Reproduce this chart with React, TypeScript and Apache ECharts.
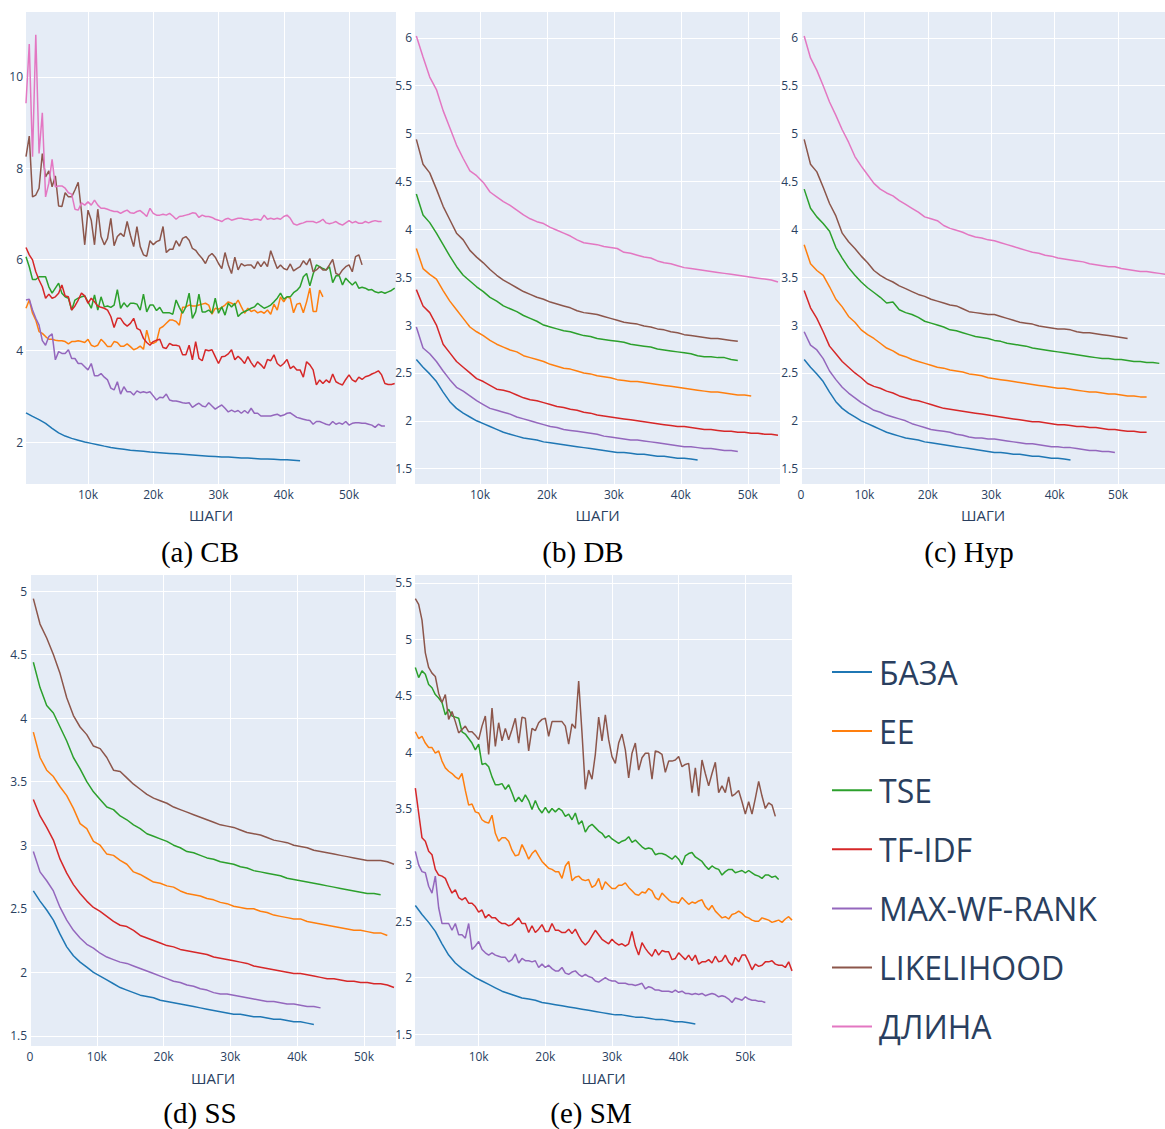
import React, { useEffect, useRef } from "react";
import * as echarts from "echarts";

const NAMES = ["БАЗА", "EE", "TSE", "TF-IDF", "MAX-WF-RANK", "LIKELIHOOD", "ДЛИНА"];
const COLORS = ["#1f77b4", "#ff7f0e", "#2ca02c", "#d62728", "#9467bd", "#8c564b", "#e377c2"];
const CAPTIONS = ["(a) CB", "(b) DB", "(c) Hyp", "(d) SS", "(e) SM"];
const X_AXIS_TITLE = "ШАГИ";
const X_TICKS = [10000, 20000, 30000, 40000, 50000];
const X_TICKS_ZERO = [0, 10000, 20000, 30000, 40000, 50000];
const Y_TICKS_CB = [2, 4, 6, 8, 10];
const Y_TICKS_DB = [1.5, 2, 2.5, 3, 3.5, 4, 4.5, 5, 5.5, 6];
const Y_TICKS_SS = [1.5, 2, 2.5, 3, 3.5, 4, 4.5, 5];
const Y_TICKS_SM = [1.5, 2, 2.5, 3, 3.5, 4, 4.5, 5, 5.5];
const X_START = 500;

// shared baseline (every 1000 steps from 500)
const BASE = [2.64, 2.56, 2.49, 2.41, 2.30, 2.20, 2.13, 2.08, 2.04, 2.00, 1.97, 1.94, 1.91, 1.88, 1.86, 1.84, 1.82, 1.81, 1.80, 1.78, 1.77, 1.76, 1.75, 1.74, 1.73, 1.72, 1.71, 1.70, 1.69, 1.68, 1.67, 1.67, 1.66, 1.65, 1.65, 1.64, 1.63, 1.63, 1.62, 1.61, 1.61, 1.60, 1.59];

// (a) CB — every 500 steps from 500
const CB_EE = [4.93, 5.11, 4.82, 4.67, 4.42, 4.38, 4.31, 4.25, 4.25, 4.23, 4.22, 4.22, 4.20, 4.15, 4.20, 4.20, 4.22, 4.20, 4.18, 4.25, 4.12, 4.09, 4.12, 4.25, 4.18, 4.09, 4.09, 4.20, 4.18, 4.10, 4.10, 4.15, 4.09, 4.02, 4.05, 4.10, 4.03, 4.45, 4.18, 4.16, 4.20, 4.49, 4.53, 4.60, 4.67, 4.67, 4.64, 4.56, 4.95, 4.96, 5.00, 4.98, 4.98, 5.00, 5.02, 5.04,
  5.00, 4.80, 4.93, 4.91, 4.95, 5.00, 5.07, 5.04, 5.00, 5.11, 4.96, 4.82, 4.93, 4.86, 4.89, 4.83, 4.86, 4.82, 4.89, 4.80, 5.02, 4.89, 5.18, 5.07, 5.18, 5.15, 4.83, 5.02, 5.04, 4.83, 5.07, 5.37, 4.86, 4.86, 5.33, 5.18];
const CB_TSE = [6.06, 5.84, 5.56, 5.56, 5.62, 5.62, 5.62, 5.40, 5.26, 5.37, 5.48, 5.26, 5.18, 5.15, 4.89, 5.11, 5.15, 5.18, 5.20, 5.07, 4.93, 5.22, 4.89, 5.18, 4.96, 4.98, 4.95, 5.00, 5.34, 4.93, 5.05, 4.96, 5.04, 5.04, 5.02, 4.89, 5.24, 4.85, 5.00, 5.00, 4.88, 4.95, 4.83, 4.83, 4.83, 4.80, 5.11, 4.95, 4.82, 4.96, 5.26, 4.71, 4.85, 5.24, 4.85, 4.85, 4.89,
  4.82, 5.15, 4.82, 4.96, 4.78, 5.04, 4.96, 5.04, 4.75, 4.82, 4.86, 4.89, 4.93, 4.96, 5.04, 4.98, 4.93, 4.96, 5.00, 5.07, 5.15, 5.26, 5.13, 5.18, 5.18, 5.27, 5.32, 5.40, 5.62, 5.69, 5.42, 5.68, 5.88, 5.84, 5.80, 5.77, 5.84, 5.49, 5.64, 5.64, 5.44, 5.59, 5.51, 5.44, 5.51, 5.37, 5.39, 5.37, 5.33, 5.34, 5.29, 5.27, 5.29, 5.26, 5.29, 5.32, 5.37];
const CB_TFIDF = [6.26, 6.10, 5.99, 5.73, 5.55, 5.40, 5.15, 5.24, 5.15, 5.18, 5.26, 5.44, 5.20, 5.18, 4.89, 4.98, 5.11, 5.26, 5.20, 5.04, 5.15, 5.07, 4.98, 4.95, 4.93, 4.89, 4.75, 4.51, 4.71, 4.71, 4.60, 4.54, 4.60, 4.71, 4.49, 4.45, 4.27, 4.18, 4.12, 4.20, 4.23, 4.25, 4.07, 4.05, 4.16, 4.12, 4.12, 4.10, 3.91, 3.91, 4.12, 3.80, 4.20, 3.83, 3.78, 4.02,
  4.00, 4.02, 3.87, 3.72, 3.87, 3.88, 3.93, 4.02, 3.80, 3.88, 3.81, 3.72, 3.87, 3.74, 3.64, 3.76, 3.69, 3.61, 3.81, 3.78, 3.91, 3.72, 3.66, 3.72, 3.81, 3.61, 3.66, 3.58, 3.58, 3.42, 3.76, 3.69, 3.58, 3.25, 3.36, 3.28, 3.36, 3.30, 3.49, 3.32, 3.28, 3.25, 3.37, 3.47, 3.36, 3.32, 3.42, 3.37, 3.43, 3.45, 3.49, 3.52, 3.56, 3.47, 3.28, 3.26, 3.26, 3.28];
const CB_MAXWF = [5.11, 5.13, 4.89, 4.71, 4.56, 4.22, 4.12, 4.31, 4.37, 3.80, 3.98, 3.94, 3.94, 4.02, 3.83, 3.83, 3.72, 3.72, 3.65, 3.58, 3.72, 3.45, 3.45, 3.50, 3.42, 3.36, 3.18, 3.14, 3.32, 3.05, 3.21, 3.10, 3.10, 3.03, 3.12, 3.08, 3.10, 3.08, 3.10, 3.01, 2.92, 2.98, 2.97, 3.05, 2.92, 2.90, 2.90, 2.88, 2.86, 2.85, 2.86, 2.76, 2.81, 2.85, 2.79, 2.77,
  2.86, 2.79, 2.72, 2.77, 2.81, 2.74, 2.66, 2.70, 2.66, 2.69, 2.63, 2.69, 2.63, 2.74, 2.63, 2.63, 2.57, 2.57, 2.57, 2.57, 2.59, 2.61, 2.57, 2.59, 2.63, 2.64, 2.59, 2.54, 2.52, 2.50, 2.48, 2.47, 2.39, 2.45, 2.45, 2.42, 2.39, 2.37, 2.45, 2.39, 2.42, 2.39, 2.45, 2.37, 2.41, 2.42, 2.42, 2.41, 2.41, 2.39, 2.37, 2.32, 2.39, 2.35, 2.35];
const CB_LIKE = [8.25, 8.70, 7.37, 7.41, 7.56, 8.32, 7.81, 7.94, 7.59, 7.83, 7.17, 7.16, 7.46, 7.37, 7.37, 7.52, 7.69, 7.05, 6.32, 7.08, 6.86, 6.32, 7.10, 6.50, 6.32, 6.46, 6.90, 6.30, 6.50, 6.57, 6.50, 6.83, 6.53, 6.28, 6.72, 6.28, 6.10, 6.07, 6.41, 6.32, 6.39, 6.42, 6.72, 6.15, 6.22, 6.22, 6.41, 6.29, 6.46, 6.50, 6.42, 6.24, 6.20, 6.10, 6.02, 5.91,
  6.07, 6.13, 6.05, 5.91, 5.80, 6.15, 5.88, 5.69, 6.05, 5.77, 5.91, 5.86, 5.88, 5.88, 5.80, 5.95, 5.84, 5.95, 5.84, 6.19, 5.99, 5.80, 5.88, 5.80, 5.77, 5.90, 5.75, 5.80, 5.84, 5.97, 5.88, 6.02, 5.73, 5.77, 5.84, 5.77, 5.77, 5.88, 6.00, 5.69, 5.66, 5.77, 5.84, 5.88, 5.73, 6.06, 6.10, 5.88];
const CB_LEN = [9.42, 10.72, 8.25, 10.92, 8.32, 9.21, 7.37, 7.67, 8.19, 7.59, 7.61, 7.61, 7.56, 7.46, 7.43, 7.10, 7.08, 7.24, 7.19, 7.26, 7.19, 7.30, 7.19, 7.12, 7.12, 7.10, 7.07, 7.05, 7.05, 7.01, 7.05, 7.08, 7.02, 7.01, 7.05, 7.07, 7.01, 6.94, 7.12, 7.01, 6.97, 6.97, 6.99, 6.97, 7.01, 6.95, 6.88, 6.94, 6.95, 6.97, 6.99, 7.02, 7.01, 6.92, 6.97, 6.94,
  6.94, 6.92, 6.88, 6.86, 6.83, 6.88, 6.90, 6.86, 6.88, 6.90, 6.90, 6.88, 6.88, 6.86, 6.88, 6.88, 6.86, 6.97, 6.88, 6.90, 6.88, 6.90, 6.88, 6.94, 6.97, 6.90, 6.78, 6.75, 6.78, 6.80, 6.83, 6.83, 6.83, 6.80, 6.83, 6.88, 6.80, 6.78, 6.80, 6.83, 6.78, 6.75, 6.80, 6.85, 6.80, 6.83, 6.79, 6.79, 6.83, 6.80, 6.83, 6.85, 6.83, 6.83];

// (b) DB — every 1000 steps from 500
const DB_EE = [3.80, 3.59, 3.53, 3.48, 3.36, 3.25, 3.16, 3.07, 2.98, 2.93, 2.89, 2.84, 2.80, 2.77, 2.74, 2.72, 2.68, 2.66, 2.64, 2.62, 2.59, 2.57, 2.55, 2.54, 2.52, 2.50, 2.49, 2.47, 2.46, 2.45, 2.43, 2.42, 2.41, 2.41, 2.40, 2.39, 2.38, 2.37, 2.36, 2.35, 2.34, 2.33, 2.32, 2.31, 2.30, 2.30, 2.29, 2.28, 2.27, 2.27, 2.26];
const DB_TSE = [4.37, 4.15, 4.07, 3.96, 3.84, 3.72, 3.61, 3.52, 3.46, 3.40, 3.35, 3.29, 3.25, 3.20, 3.17, 3.14, 3.10, 3.07, 3.04, 3.00, 2.98, 2.96, 2.94, 2.93, 2.91, 2.89, 2.88, 2.86, 2.85, 2.84, 2.83, 2.82, 2.80, 2.79, 2.78, 2.77, 2.75, 2.74, 2.73, 2.72, 2.71, 2.70, 2.68, 2.67, 2.67, 2.66, 2.66, 2.64, 2.63];
const DB_TFIDF = [3.37, 3.20, 3.13, 3.00, 2.80, 2.71, 2.62, 2.56, 2.50, 2.44, 2.41, 2.37, 2.33, 2.32, 2.30, 2.27, 2.24, 2.22, 2.21, 2.19, 2.17, 2.15, 2.14, 2.12, 2.11, 2.09, 2.08, 2.06, 2.05, 2.04, 2.03, 2.02, 2.01, 2.00, 1.99, 1.98, 1.97, 1.96, 1.95, 1.94, 1.94, 1.93, 1.92, 1.91, 1.91, 1.90, 1.89, 1.89, 1.88, 1.88, 1.87, 1.87, 1.86, 1.86, 1.85];
const DB_MAXWF = [2.98, 2.76, 2.70, 2.62, 2.52, 2.43, 2.35, 2.31, 2.26, 2.21, 2.17, 2.13, 2.11, 2.09, 2.07, 2.04, 2.02, 2.00, 1.98, 1.96, 1.94, 1.93, 1.91, 1.90, 1.89, 1.88, 1.87, 1.86, 1.84, 1.83, 1.82, 1.81, 1.80, 1.80, 1.79, 1.78, 1.77, 1.76, 1.75, 1.74, 1.73, 1.73, 1.72, 1.71, 1.71, 1.70, 1.69, 1.69, 1.68];
const DB_LIKE = [4.94, 4.68, 4.59, 4.42, 4.24, 4.10, 3.96, 3.89, 3.78, 3.71, 3.65, 3.58, 3.52, 3.47, 3.43, 3.39, 3.35, 3.32, 3.29, 3.27, 3.24, 3.22, 3.20, 3.18, 3.15, 3.13, 3.12, 3.11, 3.09, 3.07, 3.05, 3.03, 3.02, 3.01, 2.99, 2.98, 2.96, 2.95, 2.93, 2.92, 2.90, 2.89, 2.88, 2.87, 2.86, 2.86, 2.85, 2.84, 2.83];
const DB_LEN = [6.02, 5.80, 5.59, 5.46, 5.24, 5.06, 4.88, 4.74, 4.61, 4.56, 4.49, 4.39, 4.34, 4.29, 4.25, 4.20, 4.15, 4.11, 4.08, 4.06, 4.02, 3.99, 3.96, 3.93, 3.89, 3.86, 3.85, 3.84, 3.82, 3.81, 3.80, 3.76, 3.75, 3.73, 3.71, 3.70, 3.67, 3.65, 3.64, 3.62, 3.60, 3.59, 3.58, 3.57, 3.56, 3.55, 3.54, 3.53, 3.52, 3.51, 3.50, 3.49, 3.48, 3.47, 3.45];

// (c) Hyp — every 1000 steps from 500
const HYP_EE = [3.84, 3.64, 3.57, 3.52, 3.40, 3.27, 3.19, 3.09, 3.03, 2.95, 2.90, 2.86, 2.81, 2.76, 2.73, 2.69, 2.67, 2.64, 2.62, 2.60, 2.58, 2.56, 2.55, 2.53, 2.52, 2.51, 2.49, 2.48, 2.47, 2.45, 2.44, 2.43, 2.42, 2.41, 2.40, 2.39, 2.38, 2.37, 2.36, 2.35, 2.34, 2.34, 2.33, 2.32, 2.31, 2.30, 2.30, 2.29, 2.28, 2.28, 2.27, 2.26, 2.26, 2.25, 2.25];
const HYP_TSE = [4.42, 4.22, 4.13, 4.06, 3.98, 3.81, 3.70, 3.60, 3.52, 3.45, 3.39, 3.34, 3.29, 3.23, 3.24, 3.16, 3.13, 3.11, 3.08, 3.04, 3.02, 3.00, 2.98, 2.95, 2.94, 2.92, 2.90, 2.88, 2.87, 2.86, 2.84, 2.83, 2.81, 2.80, 2.79, 2.78, 2.76, 2.75, 2.74, 2.73, 2.72, 2.71, 2.70, 2.69, 2.68, 2.67, 2.66, 2.65, 2.65, 2.64, 2.64, 2.63, 2.62, 2.62, 2.61, 2.61, 2.60];
const HYP_TFIDF = [3.36, 3.18, 3.07, 2.93, 2.78, 2.70, 2.62, 2.56, 2.50, 2.45, 2.39, 2.36, 2.34, 2.31, 2.29, 2.26, 2.24, 2.22, 2.21, 2.19, 2.17, 2.15, 2.13, 2.12, 2.11, 2.10, 2.09, 2.08, 2.07, 2.06, 2.05, 2.04, 2.03, 2.02, 2.01, 2.00, 1.99, 1.99, 1.98, 1.97, 1.96, 1.96, 1.95, 1.94, 1.94, 1.93, 1.93, 1.92, 1.91, 1.91, 1.90, 1.89, 1.89, 1.88, 1.88];
const HYP_MAXWF = [2.93, 2.79, 2.74, 2.65, 2.52, 2.43, 2.35, 2.29, 2.24, 2.19, 2.15, 2.11, 2.09, 2.06, 2.04, 2.02, 2.00, 1.97, 1.95, 1.93, 1.91, 1.90, 1.89, 1.88, 1.86, 1.85, 1.83, 1.82, 1.82, 1.81, 1.81, 1.80, 1.79, 1.78, 1.77, 1.76, 1.76, 1.75, 1.74, 1.73, 1.73, 1.72, 1.72, 1.71, 1.70, 1.69, 1.69, 1.68, 1.68, 1.67];
const HYP_LIKE = [4.94, 4.68, 4.60, 4.44, 4.27, 4.14, 3.96, 3.87, 3.80, 3.72, 3.65, 3.57, 3.52, 3.48, 3.45, 3.41, 3.38, 3.35, 3.32, 3.30, 3.27, 3.25, 3.23, 3.21, 3.20, 3.17, 3.14, 3.13, 3.12, 3.11, 3.11, 3.09, 3.07, 3.05, 3.03, 3.02, 3.01, 2.99, 2.98, 2.97, 2.96, 2.96, 2.95, 2.93, 2.92, 2.92, 2.91, 2.90, 2.89, 2.88, 2.87, 2.86];
const HYP_LEN = [6.02, 5.79, 5.66, 5.50, 5.33, 5.19, 5.04, 4.91, 4.76, 4.66, 4.57, 4.48, 4.42, 4.38, 4.35, 4.30, 4.26, 4.22, 4.18, 4.13, 4.11, 4.09, 4.04, 4.01, 3.99, 3.97, 3.94, 3.92, 3.91, 3.89, 3.88, 3.86, 3.84, 3.82, 3.80, 3.78, 3.76, 3.75, 3.73, 3.72, 3.70, 3.69, 3.68, 3.67, 3.66, 3.64, 3.63, 3.62, 3.61, 3.61, 3.59, 3.58, 3.57, 3.56, 3.56, 3.55, 3.54, 3.53];

// (d) SS — every 1000 steps from 500
const SS_EE = [3.89, 3.69, 3.59, 3.54, 3.46, 3.39, 3.29, 3.17, 3.13, 3.03, 3.00, 2.93, 2.92, 2.88, 2.85, 2.79, 2.77, 2.74, 2.71, 2.70, 2.68, 2.67, 2.64, 2.62, 2.61, 2.60, 2.58, 2.57, 2.55, 2.54, 2.52, 2.51, 2.50, 2.50, 2.48, 2.47, 2.45, 2.44, 2.43, 2.42, 2.42, 2.40, 2.39, 2.38, 2.37, 2.36, 2.35, 2.34, 2.33, 2.33, 2.32, 2.31, 2.31, 2.29];
const SS_TSE = [4.44, 4.24, 4.10, 4.04, 3.93, 3.82, 3.69, 3.60, 3.50, 3.42, 3.36, 3.30, 3.28, 3.23, 3.20, 3.16, 3.13, 3.09, 3.07, 3.05, 3.03, 3.00, 2.98, 2.95, 2.94, 2.92, 2.90, 2.89, 2.87, 2.86, 2.85, 2.83, 2.82, 2.80, 2.79, 2.78, 2.77, 2.76, 2.74, 2.73, 2.72, 2.71, 2.70, 2.69, 2.68, 2.67, 2.66, 2.65, 2.64, 2.63, 2.62, 2.62, 2.61];
const SS_TFIDF = [3.36, 3.23, 3.14, 3.04, 2.89, 2.78, 2.69, 2.62, 2.56, 2.51, 2.48, 2.44, 2.40, 2.37, 2.36, 2.33, 2.29, 2.27, 2.25, 2.23, 2.21, 2.20, 2.18, 2.17, 2.16, 2.15, 2.14, 2.12, 2.11, 2.10, 2.09, 2.08, 2.07, 2.05, 2.04, 2.03, 2.02, 2.01, 2.00, 1.99, 1.99, 1.98, 1.97, 1.96, 1.95, 1.95, 1.94, 1.93, 1.93, 1.92, 1.92, 1.91, 1.91, 1.90, 1.88];
const SS_MAXWF = [2.95, 2.79, 2.72, 2.64, 2.51, 2.41, 2.33, 2.27, 2.22, 2.19, 2.15, 2.12, 2.10, 2.08, 2.07, 2.05, 2.03, 2.01, 1.99, 1.97, 1.95, 1.93, 1.92, 1.90, 1.89, 1.87, 1.86, 1.84, 1.83, 1.83, 1.82, 1.81, 1.80, 1.79, 1.78, 1.77, 1.77, 1.76, 1.75, 1.75, 1.74, 1.73, 1.73, 1.72];
const SS_LIKE = [4.94, 4.74, 4.63, 4.50, 4.35, 4.16, 4.02, 3.93, 3.87, 3.78, 3.76, 3.69, 3.59, 3.58, 3.53, 3.48, 3.44, 3.40, 3.37, 3.35, 3.33, 3.30, 3.28, 3.26, 3.24, 3.22, 3.20, 3.18, 3.16, 3.15, 3.14, 3.12, 3.10, 3.09, 3.08, 3.06, 3.04, 3.03, 3.02, 3.00, 2.99, 2.98, 2.96, 2.95, 2.94, 2.93, 2.92, 2.91, 2.90, 2.89, 2.88, 2.88, 2.88, 2.87, 2.85];

// (e) SM — every 500 steps from 500
const SM_EE = [4.18, 4.12, 4.14, 4.08, 4.04, 4.04, 3.99, 4.01, 3.92, 3.86, 3.83, 3.81, 3.78, 3.76, 3.81, 3.66, 3.53, 3.54, 3.47, 3.46, 3.40, 3.38, 3.37, 3.44, 3.28, 3.21, 3.24, 3.24, 3.21, 3.13, 3.08, 3.09, 3.18, 3.12, 3.05, 3.10, 3.13, 3.08, 3.03, 3.00, 2.97, 2.96, 2.94, 2.94, 2.88, 2.99, 3.03, 2.86, 2.89, 2.90, 2.87, 2.86, 2.87, 2.80, 2.82, 2.88, 2.78, 2.85,
  2.82, 2.79, 2.79, 2.82, 2.82, 2.84, 2.80, 2.77, 2.74, 2.73, 2.76, 2.75, 2.79, 2.77, 2.71, 2.69, 2.75, 2.72, 2.69, 2.67, 2.67, 2.66, 2.71, 2.68, 2.65, 2.67, 2.66, 2.68, 2.69, 2.63, 2.60, 2.64, 2.59, 2.56, 2.53, 2.54, 2.52, 2.56, 2.57, 2.59, 2.57, 2.54, 2.53, 2.51, 2.50, 2.50, 2.53, 2.52, 2.51, 2.49, 2.50, 2.51, 2.49, 2.52, 2.54, 2.51];
const SM_TSE = [4.75, 4.66, 4.72, 4.69, 4.60, 4.57, 4.51, 4.48, 4.44, 4.33, 4.38, 4.32, 4.31, 4.30, 4.18, 4.16, 4.12, 4.08, 4.02, 4.07, 3.89, 3.90, 3.87, 3.78, 3.71, 3.71, 3.72, 3.67, 3.71, 3.64, 3.56, 3.60, 3.56, 3.62, 3.57, 3.49, 3.57, 3.50, 3.46, 3.51, 3.46, 3.50, 3.47, 3.50, 3.48, 3.43, 3.45, 3.40, 3.46, 3.36, 3.39, 3.29, 3.34, 3.36, 3.33, 3.30, 3.28, 3.24,
  3.26, 3.23, 3.21, 3.19, 3.21, 3.22, 3.25, 3.20, 3.22, 3.19, 3.16, 3.14, 3.15, 3.14, 3.09, 3.10, 3.10, 3.09, 3.07, 3.05, 3.08, 3.05, 3.00, 3.08, 3.10, 3.11, 3.07, 3.05, 3.03, 2.99, 2.96, 2.99, 2.97, 2.96, 2.91, 2.94, 2.96, 2.96, 2.93, 2.94, 2.95, 2.93, 2.95, 2.93, 2.91, 2.90, 2.88, 2.91, 2.91, 2.89, 2.90, 2.87];
const SM_TFIDF = [3.68, 3.46, 3.24, 3.21, 3.12, 3.09, 2.96, 2.91, 2.90, 2.88, 2.81, 2.75, 2.78, 2.71, 2.69, 2.71, 2.66, 2.66, 2.63, 2.58, 2.60, 2.53, 2.56, 2.53, 2.53, 2.50, 2.48, 2.48, 2.46, 2.47, 2.50, 2.53, 2.48, 2.48, 2.40, 2.46, 2.40, 2.43, 2.47, 2.41, 2.41, 2.48, 2.42, 2.42, 2.40, 2.40, 2.43, 2.39, 2.43, 2.37, 2.32, 2.29, 2.32, 2.37, 2.42, 2.38, 2.34, 2.32,
  2.30, 2.34, 2.31, 2.29, 2.30, 2.28, 2.30, 2.41, 2.28, 2.20, 2.31, 2.26, 2.22, 2.19, 2.25, 2.20, 2.24, 2.23, 2.23, 2.16, 2.17, 2.22, 2.19, 2.16, 2.20, 2.15, 2.20, 2.12, 2.14, 2.14, 2.16, 2.13, 2.19, 2.14, 2.15, 2.20, 2.14, 2.11, 2.18, 2.14, 2.20, 2.20, 2.14, 2.07, 2.12, 2.10, 2.11, 2.14, 2.14, 2.15, 2.12, 2.11, 2.11, 2.09, 2.14, 2.06];
const SM_MAXWF = [3.12, 3.00, 2.94, 2.93, 2.81, 2.75, 2.90, 2.62, 2.48, 2.48, 2.48, 2.42, 2.48, 2.38, 2.38, 2.35, 2.48, 2.25, 2.28, 2.32, 2.25, 2.22, 2.20, 2.22, 2.20, 2.19, 2.18, 2.18, 2.14, 2.16, 2.21, 2.13, 2.17, 2.15, 2.15, 2.14, 2.15, 2.09, 2.12, 2.09, 2.11, 2.08, 2.06, 2.06, 2.09, 2.04, 2.03, 2.05, 2.06, 2.03, 2.01, 2.03, 2.01, 2.00, 1.97, 1.96, 1.98, 2.00,
  1.98, 1.97, 1.97, 1.95, 1.95, 1.95, 1.94, 1.94, 1.93, 1.94, 1.95, 1.90, 1.92, 1.91, 1.89, 1.89, 1.88, 1.88, 1.88, 1.87, 1.89, 1.87, 1.88, 1.86, 1.86, 1.85, 1.86, 1.85, 1.86, 1.84, 1.85, 1.86, 1.85, 1.83, 1.84, 1.83, 1.81, 1.78, 1.82, 1.81, 1.80, 1.83, 1.81, 1.80, 1.80, 1.79, 1.79, 1.78];
const SM_LIKE = [5.36, 5.31, 5.17, 4.88, 4.75, 4.70, 4.67, 4.52, 4.44, 4.51, 4.29, 4.36, 4.27, 4.17, 4.20, 4.23, 4.18, 4.18, 4.15, 4.11, 4.23, 4.32, 3.98, 4.39, 4.05, 4.26, 4.10, 4.21, 4.11, 4.20, 4.30, 4.08, 4.31, 4.30, 4.01, 4.21, 4.19, 4.26, 4.29, 4.30, 4.14, 4.27, 4.27, 4.27, 4.27, 4.23, 4.07, 4.25, 4.21, 4.63, 4.17, 3.67, 3.84, 3.76, 3.98, 4.31, 4.10, 4.33,
  4.11, 3.96, 3.90, 4.08, 4.16, 4.02, 3.77, 3.99, 4.08, 3.84, 3.95, 3.99, 3.99, 3.76, 4.01, 4.00, 3.98, 3.82, 3.92, 3.92, 3.93, 3.96, 3.87, 3.89, 3.90, 3.64, 3.86, 3.61, 3.93, 3.81, 3.70, 3.81, 3.91, 3.64, 3.70, 3.64, 3.78, 3.61, 3.63, 3.66, 3.56, 3.45, 3.56, 3.45, 3.59, 3.74, 3.61, 3.50, 3.55, 3.53, 3.43];

// order of series in each panel follows NAMES
const PANEL_SERIES = [
  [BASE, CB_EE, CB_TSE, CB_TFIDF, CB_MAXWF, CB_LIKE, CB_LEN],
  [BASE, DB_EE, DB_TSE, DB_TFIDF, DB_MAXWF, DB_LIKE, DB_LEN],
  [BASE, HYP_EE, HYP_TSE, HYP_TFIDF, HYP_MAXWF, HYP_LIKE, HYP_LEN],
  [BASE, SS_EE, SS_TSE, SS_TFIDF, SS_MAXWF, SS_LIKE, null],
  [BASE, SM_EE, SM_TSE, SM_TFIDF, SM_MAXWF, SM_LIKE, null],
];
const PANEL_STEPS = [
  [1000, 500, 500, 500, 500, 500, 500],
  [1000, 1000, 1000, 1000, 1000, 1000, 1000],
  [1000, 1000, 1000, 1000, 1000, 1000, 1000],
  [1000, 1000, 1000, 1000, 1000, 1000, 1000],
  [1000, 500, 500, 500, 500, 500, 500],
];
const PANEL_X_RANGE = [[500, 57200], [300, 54800], [0, 57400], [0, 54800], [450, 57000]];
const PANEL_Y_RANGE = [[1.08, 11.42], [1.34, 6.27], [1.34, 6.27], [1.42, 5.126], [1.394, 5.57]];
const PANEL_X_TICKS = [X_TICKS, X_TICKS, X_TICKS_ZERO, X_TICKS_ZERO, X_TICKS];
const PANEL_Y_TICKS = [Y_TICKS_CB, Y_TICKS_DB, Y_TICKS_DB, Y_TICKS_SS, Y_TICKS_SM];

// layout (pixels)
const GRIDS = [
  { left: 26, top: 12, width: 370, height: 472, cx: 200, cy: 552, gap: 23 },
  { left: 415, top: 12, width: 365, height: 472, cx: 583, cy: 552, gap: 23 },
  { left: 801, top: 12, width: 364, height: 472, cx: 969, cy: 552, gap: 23 },
  { left: 30, top: 575, width: 366, height: 471, cx: 200, cy: 1113, gap: 24 },
  { left: 415, top: 575, width: 377, height: 471, cx: 591, cy: 1113, gap: 24 },
];
const LEGEND_POS = { x1: 832, x2: 872, tx: 879, y0: 672, dy: 59.1 };

const INK = "#2a3f5f";
const PLOT_BG = "#E5ECF6";
const SANS = '"Open Sans", "Noto Sans", sans-serif';

const toPoints = (ys: number[], step: number) => ys.map((y, i) => [X_START + i * step, y]);
const fmtK = (v: number) => (v === 0 ? "0" : `${v / 1000}k`);

export default function App() {
  const ref = useRef<HTMLDivElement>(null);
  useEffect(() => {
    if (!ref.current) return;
    const chart = echarts.init(ref.current, null, { renderer: "svg" });
    const grid: any[] = [];
    const xAxis: any[] = [];
    const yAxis: any[] = [];
    const series: any[] = [];
    const graphic: any[] = [];
    GRIDS.forEach((g, p) => {
      grid.push({ left: g.left, top: g.top, width: g.width, height: g.height, show: true, backgroundColor: PLOT_BG, borderWidth: 0 });
      xAxis.push({
        type: "value", gridIndex: p, min: PANEL_X_RANGE[p][0], max: PANEL_X_RANGE[p][1],
        axisLine: { show: false },
        axisTick: { show: false, customValues: PANEL_X_TICKS[p] },
        axisLabel: { customValues: PANEL_X_TICKS[p], formatter: fmtK, color: INK, fontFamily: SANS, fontSize: 12, margin: 4 },
        splitLine: { show: true, lineStyle: { color: "#ffffff", width: 1 } },
        name: X_AXIS_TITLE, nameLocation: "middle", nameGap: g.gap,
        nameTextStyle: { color: INK, fontFamily: SANS, fontSize: 15 },
      });
      yAxis.push({
        type: "value", gridIndex: p, min: PANEL_Y_RANGE[p][0], max: PANEL_Y_RANGE[p][1],
        axisLine: { show: false },
        axisTick: { show: false, customValues: PANEL_Y_TICKS[p] },
        axisLabel: { customValues: PANEL_Y_TICKS[p], color: INK, fontFamily: SANS, fontSize: 12, margin: 3 },
        splitLine: { show: true, lineStyle: { color: "#ffffff", width: 1 } },
      });
      PANEL_SERIES[p].forEach((ys, s) => {
        if (!ys) return;
        series.push({
          type: "line", name: NAMES[s], xAxisIndex: p, yAxisIndex: p,
          data: toPoints(ys, PANEL_STEPS[p][s]),
          showSymbol: false, symbol: "none", silent: true,
          lineStyle: { width: 1.5, color: COLORS[s] }, itemStyle: { color: COLORS[s] },
        });
      });
      graphic.push({
        type: "text", x: g.cx, y: g.cy, silent: true,
        style: { text: CAPTIONS[p], fill: "#000", font: '29px "Liberation Serif", "DejaVu Serif", serif', align: "center", verticalAlign: "middle", textAlign: "center", textVerticalAlign: "middle" },
      });
    });
    NAMES.forEach((n, i) => {
      const y = LEGEND_POS.y0 + i * LEGEND_POS.dy;
      graphic.push({ type: "line", silent: true, shape: { x1: LEGEND_POS.x1, y1: y, x2: LEGEND_POS.x2, y2: y }, style: { stroke: COLORS[i], lineWidth: 2 } });
      graphic.push({
        type: "text", x: LEGEND_POS.tx, y: y, silent: true,
        style: { text: n, fill: INK, font: `32px ${SANS}`, align: "left", verticalAlign: "middle", textAlign: "left", textVerticalAlign: "middle" },
      });
    });
    chart.setOption({ animation: false, backgroundColor: "#ffffff", grid, xAxis, yAxis, series, graphic });
    return () => chart.dispose();
  }, []);
  return <div ref={ref} style={{ position: "absolute", left: 0, top: 0, width: 1165, height: 1129 }} />;
}
